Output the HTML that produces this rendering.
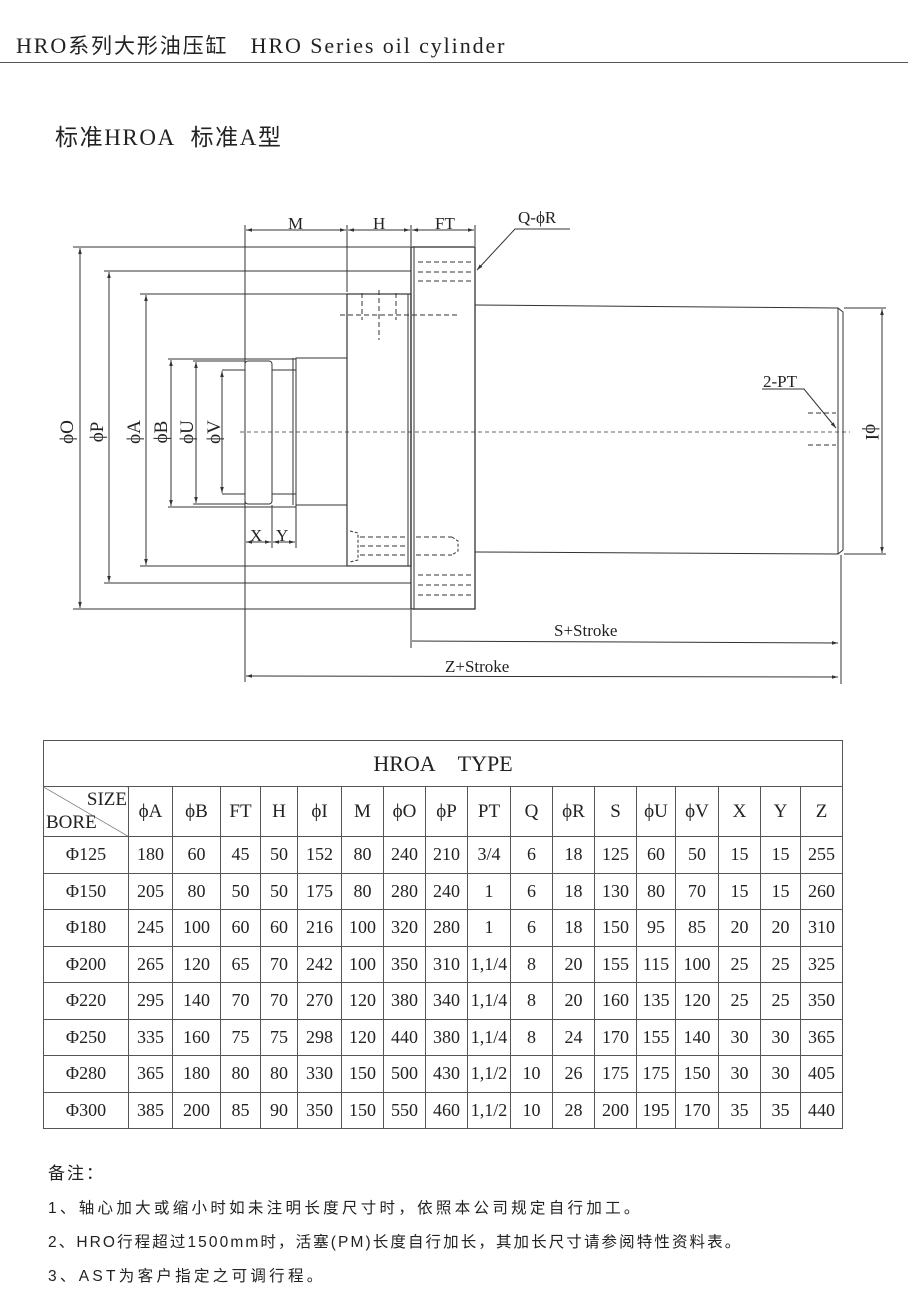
<!DOCTYPE html>
<html><head><meta charset="utf-8"><style>
html,body{margin:0;padding:0;background:#fff;}
body{width:908px;height:1301px;position:relative;overflow:hidden;font-family:"Liberation Serif","Noto Serif CJK SC",serif;color:#222;}
.t{position:absolute;white-space:nowrap;}
table{position:absolute;left:43px;top:740px;border-collapse:collapse;table-layout:fixed;font-family:"Liberation Serif",serif;font-size:18px;color:#222;}
td{border:1px solid #555;text-align:center;padding:0;height:35.5px;}
.cn{font-family:"Liberation Sans","Noto Sans CJK SC",sans-serif;}
.nt{font-size:15.5px;letter-spacing:3.3px;}
</style></head><body>
<div class="t" style="left:16px;top:30px;font-size:22px;letter-spacing:1.9px;">HRO<span class="cn" style="font-size:21px">系列大形油压缸</span>&nbsp;&nbsp; HRO Series oil cylinder</div>
<div style="position:absolute;left:0;top:62px;width:908px;height:1px;background:#555"></div>
<div class="t" style="left:55px;top:118px;font-size:23px;letter-spacing:1.6px;"><span class="cn">标准</span>HROA&nbsp;&nbsp;<span class="cn">标准</span>A<span class="cn">型</span></div>

<svg style="position:absolute;left:0;top:0" width="908" height="720" viewBox="0 0 908 720">
<defs><marker id="a" viewBox="0 0 10 10" refX="10" refY="5" markerWidth="6" markerHeight="6" orient="auto-start-reverse"><path d="M0,2 L10,5 L0,8 z" fill="#333"/></marker></defs>
<g stroke="#333" stroke-width="1" fill="none">
<line x1="73" y1="247" x2="411" y2="247"/><line x1="73" y1="609" x2="411" y2="609"/>
<line x1="104" y1="271" x2="411" y2="271"/><line x1="104" y1="583" x2="411" y2="583"/>
<line x1="140" y1="294" x2="347" y2="294"/><line x1="140" y1="566" x2="347" y2="566"/>
<line x1="168" y1="359" x2="296" y2="359"/><line x1="168" y1="507" x2="296" y2="507"/>
<rect x="411" y="247" width="64" height="362" stroke-width="1.3"/>
<line x1="414" y1="247" x2="414" y2="609"/>
<rect x="347" y="294" width="64" height="272" stroke-width="1.2"/>
<line x1="408" y1="294" x2="408" y2="566"/>
<rect x="296" y="358" width="51" height="147"/>
<rect x="245" y="361" width="27" height="143" rx="3"/>
<line x1="272" y1="370" x2="296" y2="370"/><line x1="272" y1="494" x2="296" y2="494"/>
<line x1="222" y1="370" x2="245" y2="370"/><line x1="222" y1="494" x2="245" y2="494"/>
<line x1="193" y1="361" x2="245" y2="361"/><line x1="193" y1="504" x2="245" y2="504"/>
<line x1="293" y1="358" x2="293" y2="505"/>
<polyline points="475,305 838,308 843,312 843,550 838,554 475,552"/>
<line x1="838" y1="308" x2="838" y2="554"/>
<g stroke-dasharray="5,3">
<line x1="418" y1="262" x2="473" y2="262"/><line x1="418" y1="272" x2="473" y2="272"/><line x1="418" y1="281" x2="473" y2="281"/>
<line x1="418" y1="575" x2="473" y2="575"/><line x1="418" y1="585" x2="473" y2="585"/><line x1="418" y1="595" x2="473" y2="595"/>
<line x1="362" y1="293" x2="362" y2="320"/><line x1="396" y1="293" x2="396" y2="320"/>
<line x1="379" y1="290" x2="379" y2="340"/><line x1="340" y1="315" x2="460" y2="315"/>
<line x1="360" y1="537" x2="407" y2="537"/><line x1="360" y1="546" x2="407" y2="546"/><line x1="360" y1="555" x2="407" y2="555"/>
<line x1="416" y1="537" x2="452" y2="537"/><line x1="416" y1="555" x2="452" y2="555"/>
<line x1="808" y1="413" x2="836" y2="413"/><line x1="808" y1="445" x2="836" y2="445"/>
<line x1="240" y1="432" x2="850" y2="432" stroke-dasharray="4,3" stroke-width="0.8"/>
</g>
<path d="M452,537 L458,541 L458,551 L452,555" stroke-dasharray="3,2"/>
<path d="M350,531 L358,533 L358,560 L350,562" stroke-dasharray="3,2"/>
<line x1="245" y1="225" x2="245" y2="682"/>
<line x1="347" y1="225" x2="347" y2="292"/>
<line x1="411" y1="225" x2="411" y2="246"/><line x1="411" y1="610" x2="411" y2="648"/>
<line x1="475" y1="225" x2="475" y2="246"/>
<line x1="272" y1="505" x2="272" y2="548"/><line x1="296" y1="505" x2="296" y2="548"/>
<line x1="844" y1="308" x2="886" y2="308"/><line x1="844" y1="554" x2="886" y2="554"/>
<line x1="841" y1="555" x2="841" y2="684"/>
<g marker-start="url(#a)" marker-end="url(#a)">
<line x1="246" y1="230" x2="346" y2="230"/><line x1="348" y1="230" x2="410" y2="230"/><line x1="412" y1="230" x2="474" y2="230"/>
<line x1="80" y1="248" x2="80" y2="608"/><line x1="109" y1="272" x2="109" y2="582"/>
<line x1="146" y1="295" x2="146" y2="565"/><line x1="171" y1="360" x2="171" y2="506"/>
<line x1="196" y1="362" x2="196" y2="503"/><line x1="222" y1="371" x2="222" y2="493"/>
<line x1="246" y1="542" x2="271" y2="542"/><line x1="273" y1="542" x2="295" y2="542"/>
<line x1="882" y1="309" x2="882" y2="553"/>
</g>
<line x1="412" y1="641" x2="838" y2="643" marker-end="url(#a)"/>
<line x1="246" y1="676" x2="838" y2="677" marker-start="url(#a)" marker-end="url(#a)"/>
<polyline points="570,229 515,229 477,270" marker-end="url(#a)"/>
<polyline points="762,389 804,389 836,428" marker-end="url(#a)"/>
</g>
<g font-family="Liberation Serif,serif" font-size="17" fill="#222">
<text x="288" y="229">M</text><text x="373" y="229">H</text><text x="435" y="229">FT</text>
<text x="518" y="223">Q-ϕR</text><text x="763" y="387">2-PT</text>
<text x="250" y="541">X</text><text x="276" y="541">Y</text>
<text x="554" y="636">S+Stroke</text><text x="445" y="672">Z+Stroke</text>
<g font-size="19">
<text transform="translate(73,432) rotate(-90)" text-anchor="middle">ϕO</text>
<text transform="translate(103,432) rotate(-90)" text-anchor="middle">ϕP</text>
<text transform="translate(140,432) rotate(-90)" text-anchor="middle">ϕA</text>
<text transform="translate(167,432) rotate(-90)" text-anchor="middle">ϕB</text>
<text transform="translate(193,432) rotate(-90)" text-anchor="middle">ϕU</text>
<text transform="translate(220,432) rotate(-90)" text-anchor="middle">ϕV</text>
<text transform="translate(866,432) rotate(90)" text-anchor="middle">ϕI</text>
</g></g>
</svg>

<table>
<colgroup><col style="width:85px"><col style="width:44px"><col style="width:48px"><col style="width:40px"><col style="width:37px"><col style="width:44px"><col style="width:42px"><col style="width:42px"><col style="width:42px"><col style="width:43px"><col style="width:42px"><col style="width:42px"><col style="width:42px"><col style="width:39px"><col style="width:43px"><col style="width:42px"><col style="width:40px"><col style="width:42px"></colgroup>
<tr><td colspan="18" style="height:45px;font-size:22px;">HROA&nbsp;&nbsp;&nbsp;&nbsp;TYPE</td></tr>
<tr style="font-size:19px"><td style="height:49px;position:relative;background:linear-gradient(to bottom left,transparent calc(50% - 0.6px),#555 50%,transparent calc(50% + 0.6px));"><span style="position:absolute;right:1px;top:2px">SIZE</span><span style="position:absolute;left:2px;bottom:2px">BORE</span></td><td>ϕA</td><td>ϕB</td><td>FT</td><td>H</td><td>ϕI</td><td>M</td><td>ϕO</td><td>ϕP</td><td>PT</td><td>Q</td><td>ϕR</td><td>S</td><td>ϕU</td><td>ϕV</td><td>X</td><td>Y</td><td>Z</td></tr>
<tr><td>Φ125</td><td>180</td><td>60</td><td>45</td><td>50</td><td>152</td><td>80</td><td>240</td><td>210</td><td>3/4</td><td>6</td><td>18</td><td>125</td><td>60</td><td>50</td><td>15</td><td>15</td><td>255</td></tr>
<tr><td>Φ150</td><td>205</td><td>80</td><td>50</td><td>50</td><td>175</td><td>80</td><td>280</td><td>240</td><td>1</td><td>6</td><td>18</td><td>130</td><td>80</td><td>70</td><td>15</td><td>15</td><td>260</td></tr>
<tr><td>Φ180</td><td>245</td><td>100</td><td>60</td><td>60</td><td>216</td><td>100</td><td>320</td><td>280</td><td>1</td><td>6</td><td>18</td><td>150</td><td>95</td><td>85</td><td>20</td><td>20</td><td>310</td></tr>
<tr><td>Φ200</td><td>265</td><td>120</td><td>65</td><td>70</td><td>242</td><td>100</td><td>350</td><td>310</td><td>1,1/4</td><td>8</td><td>20</td><td>155</td><td>115</td><td>100</td><td>25</td><td>25</td><td>325</td></tr>
<tr><td>Φ220</td><td>295</td><td>140</td><td>70</td><td>70</td><td>270</td><td>120</td><td>380</td><td>340</td><td>1,1/4</td><td>8</td><td>20</td><td>160</td><td>135</td><td>120</td><td>25</td><td>25</td><td>350</td></tr>
<tr><td>Φ250</td><td>335</td><td>160</td><td>75</td><td>75</td><td>298</td><td>120</td><td>440</td><td>380</td><td>1,1/4</td><td>8</td><td>24</td><td>170</td><td>155</td><td>140</td><td>30</td><td>30</td><td>365</td></tr>
<tr><td>Φ280</td><td>365</td><td>180</td><td>80</td><td>80</td><td>330</td><td>150</td><td>500</td><td>430</td><td>1,1/2</td><td>10</td><td>26</td><td>175</td><td>175</td><td>150</td><td>30</td><td>30</td><td>405</td></tr>
<tr><td>Φ300</td><td>385</td><td>200</td><td>85</td><td>90</td><td>350</td><td>150</td><td>550</td><td>460</td><td>1,1/2</td><td>10</td><td>28</td><td>200</td><td>195</td><td>170</td><td>35</td><td>35</td><td>440</td></tr>
</table>

<div class="t cn" style="left:48px;top:1159px;font-size:17px;letter-spacing:2px;">备注：</div>
<div class="t cn nt" style="left:48px;top:1196px;">1、轴心加大或缩小时如未注明长度尺寸时，依照本公司规定自行加工。</div>
<div class="t cn nt" style="left:48px;top:1230px;letter-spacing:2.1px;">2、HRO行程超过1500mm时，活塞(PM)长度自行加长，其加长尺寸请参阅特性资料表。</div>
<div class="t cn nt" style="left:48px;top:1264px;">3、AST为客户指定之可调行程。</div>
</body></html>
